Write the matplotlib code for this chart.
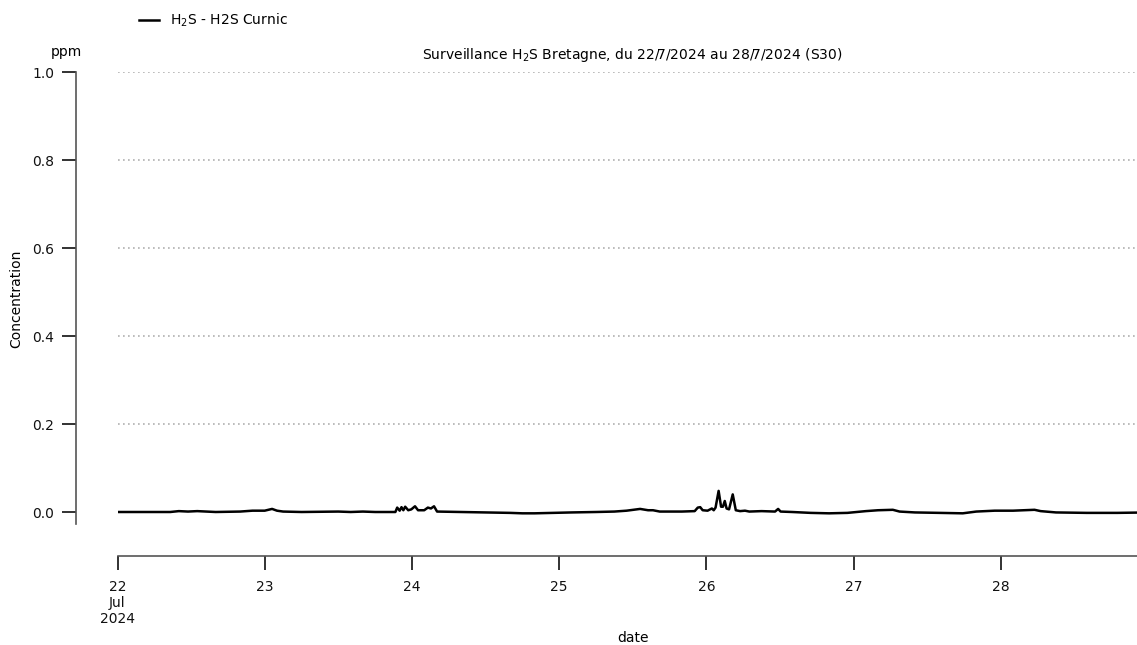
import matplotlib
matplotlib.use("Agg")
import matplotlib.pyplot as plt
import pandas as pd

# Data: hours since 22 Jul 2024 00:00 and H2S concentration (ppm)
hours = [0, 8.6, 10, 11.5, 13, 16, 20, 22, 24, 25.2, 26, 27, 30, 36, 38, 40, 42, 45.3,
         45.6, 46.0, 46.3, 46.6, 46.9, 47.4, 47.9, 48.5, 49.0, 50.0, 50.6, 51.1, 51.6, 52.1,
         56, 60, 64, 66, 68, 71, 74, 78, 81, 83, 85.2, 86.5, 87.3, 88.4, 92, 94.1,
         94.6, 95.0, 95.4, 96.2, 96.9, 97.2, 97.5, 98.0, 98.4, 98.7, 99.0, 99.3, 99.7,
         100.3, 100.8, 101.5, 102.3, 103, 105, 107.2, 107.7, 108.1, 110, 113, 116, 119,
         122, 124, 126.4, 127.5, 130, 134, 137.8, 140, 143, 146, 149.5, 150.5, 153, 158,
         163, 168]
values = [0.000, 0.000, 0.002, 0.001, 0.002, 0.000, 0.001, 0.003, 0.003, 0.007, 0.003, 0.001,
          0.000, 0.001, 0.000, 0.001, 0.000, 0.000,
          0.010, 0.003, 0.011, 0.004, 0.012, 0.004, 0.006, 0.013, 0.004, 0.004, 0.010, 0.008,
          0.013, 0.001,
          0.000, -0.001, -0.002, -0.003, -0.003, -0.002, -0.001, 0.000, 0.001, 0.003, 0.007,
          0.004, 0.004, 0.001, 0.001, 0.002,
          0.010, 0.011, 0.004, 0.003, 0.008, 0.004, 0.010, 0.048, 0.012, 0.012, 0.025, 0.008,
          0.006, 0.040, 0.004, 0.002, 0.003, 0.001, 0.002, 0.001, 0.007, 0.001, 0.000,
          -0.002, -0.003, -0.002, 0.002, 0.004, 0.005, 0.001, -0.001, -0.002, -0.003,
          0.001, 0.003, 0.003, 0.005, 0.002, -0.001, -0.002, -0.002, -0.001]

start = pd.Timestamp("2024-07-22")
times = [start + pd.Timedelta(hours=h) for h in hours]

tick_days = [22, 23, 24, 25, 26, 27, 28]
tick_labels = ["22\nJul\n2024", "23", "24", "25", "26", "27", "28"]
y_ticks = [0.0, 0.2, 0.4, 0.6, 0.8, 1.0]

W, H = 1137, 645
PX = 72 / 100  # points per pixel
fig = plt.figure(figsize=(W / 100, H / 100), dpi=100)
ax = fig.add_axes([117.5 / W, 1 - 556 / H, (1148 - 117.5) / W, (556 - 72) / H])

ax.plot(times, values, color="black", lw=1.8, label="H$_2$S - H2S Curnic", zorder=3)

ax.set_xlim(start, start + pd.Timedelta(days=7))
ax.set_ylim(-0.1, 1.0)

ax.set_xticks([pd.Timestamp(2024, 7, d) for d in tick_days])
ax.set_xticklabels(tick_labels, fontsize=10)
ax.set_yticks(y_ticks)
ax.set_yticklabels([f"{v:.1f}" for v in y_ticks], fontsize=10)

for y in y_ticks[1:]:
    ax.axhline(y, color="#b0b0b0", lw=1.2, ls=(0, (1, 2)), zorder=1)

for s in ["top", "right"]:
    ax.spines[s].set_visible(False)
ax.spines["left"].set_position(("outward", 41.5 * PX))
ax.spines["left"].set_bounds(-0.027, 1.0)
ax.spines["left"].set_color("#555555")
ax.spines["bottom"].set_color("#555555")
ax.spines["left"].set_linewidth(1.2)
ax.spines["bottom"].set_linewidth(1.2)
ax.tick_params(axis="both", length=14 * PX, width=1.3, color="#222222", labelcolor="#111111")
ax.tick_params(axis="y", pad=8 * PX)
ax.tick_params(axis="x", pad=10 * PX)

ax.set_xlabel("date", fontsize=10)
ax.xaxis.set_label_coords(0.5, (556 - 631) / 484)
ax.set_ylabel("Concentration", fontsize=10)
ax.yaxis.set_label_coords((23 - 117.5) / 1030.5, (556 - 299) / 484)
ax.set_title("Surveillance H$_2$S Bretagne, du 22/7/2024 au 28/7/2024 (S30)", fontsize=10, pad=9.5)
fig.text(66 / W, 1 - 52 / H, "ppm", fontsize=10, ha="center", va="center")

fig.legend(loc="center left", bbox_to_anchor=(126 / W, 1 - 20.5 / H), frameon=False, fontsize=10,
           handlelength=1.5)

fig.savefig("out.png", dpi=100)
